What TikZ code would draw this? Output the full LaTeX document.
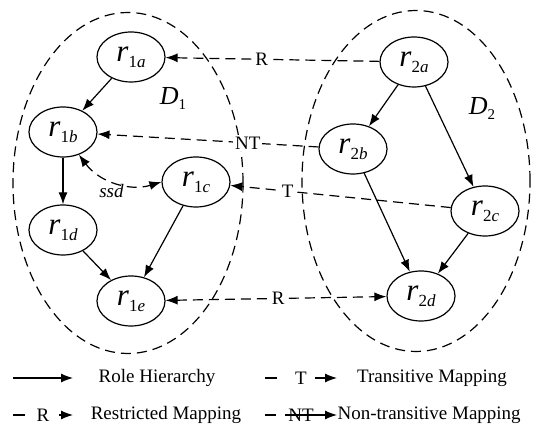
\documentclass[tikz,border=0pt]{standalone}
\usepackage{fontspec}
\setmainfont{Liberation Serif}
\usetikzlibrary{shapes.geometric,arrows.meta}

\newcommand{\rolename}[2]{{\fontsize{31}{31}\selectfont\textit{r}}{\fontsize{17}{17}\selectfont\raisebox{-6pt}{#1\textit{#2}}}}
\newcommand{\domname}[1]{{\fontsize{26}{26}\selectfont\textit{D}}{\fontsize{15}{15}\selectfont\raisebox{-5pt}{#1}}}

\begin{document}
\begin{tikzpicture}[
        x=1pt, y=1pt,
        >={Latex[length=12pt,width=9pt]},
        every path/.style={line width=1.2pt},
        role node/.style={ellipse, draw, line width=1.2pt, minimum width=68pt, minimum height=50pt, inner sep=0pt},
        domain area/.style={ellipse, draw, line width=1.2pt, dash pattern=on 10pt off 6pt, inner sep=0pt},
        mapping/.style={dash pattern=on 10pt off 6pt},
        map label/.style={fill=white, inner sep=2pt, font=\fontsize{19}{22}\selectfont},
        legend text/.style={inner sep=0pt, font=\fontsize{19}{22}\selectfont},
    ]
    \useasboundingbox (0,0) rectangle (540,430);

    \node[domain area, minimum width=230pt, minimum height=341pt] (D1) at (128,247) {};
    \node[domain area, minimum width=228pt, minimum height=341pt] (D2) at (416,249) {};
    \node (D1lbl) at (173,332) {\domname{1}};
    \node (D2lbl) at (482,322) {\domname{2}};

    \node[role node] (r1a) at (131,373) {\rolename{1}{a}};
    \node[role node] (r1b) at (63,298) {\rolename{1}{b}};
    \node[role node] (r1c) at (196,248) {\rolename{1}{c}};
    \node[role node] (r1d) at (63,200) {\rolename{1}{d}};
    \node[role node] (r1e) at (131,129) {\rolename{1}{e}};
    \node[role node] (r2a) at (414,368) {\rolename{2}{a}};
    \node[role node] (r2b) at (353,281) {\rolename{2}{b}};
    \node[role node] (r2c) at (485,219) {\rolename{2}{c}};
    \node[role node] (r2d) at (421,134) {\rolename{2}{d}};

    \draw[->] (r1a) -- (r1b);
    \draw[->] (r1b) -- (r1d);
    \draw[->] (r1d) -- (r1e);
    \draw[->] (r1c) -- (r1e);
    \draw[->] (r2a) -- (r2b);
    \draw[->] (r2a) -- (r2c);
    \draw[->] (r2b) -- (r2d);
    \draw[->] (r2c) -- (r2d);

    \draw[mapping, <->] (r1b.-55) to[bend right=35] node[pos=0.45, below=3pt, legend text] (ssdlbl) {\textit{ssd}} (r1c.west);
    \draw[mapping, ->] (r2a) -- node[map label, pos=0.55] (R1lbl) {R} (r1a);
    \draw[mapping, ->] (r2b) -- node[map label, pos=0.32] (NTlbl) {NT} (r1b);
    \draw[mapping, ->] (r2c) -- node[map label, pos=0.74] (Tlbl) {T} (r1c);
    \draw[mapping, <->] (r1e) -- node[map label, pos=0.51] (R2lbl) {R} (r2d);

    % legend
    \coordinate (rhA) at (13,52);
    \coordinate (rhB) at (73,52);
    \draw[->] (rhA) -- (rhB);
    \node[legend text] (rhtxt) at (157,52) {Role Hierarchy};
    \coordinate (tmA) at (265,52);
    \coordinate (tmB) at (337,52);
    \draw[dash pattern=on 12pt off 38pt on 40pt, ->] (tmA) -- node[legend text] (tmlbl) {T} (tmB);
    \node[legend text] (tmtxt) at (432,52) {Transitive Mapping};
    \coordinate (rmA) at (13,15);
    \coordinate (rmB) at (73,15);
    \draw[dash pattern=on 12pt off 34pt on 40pt, ->] (rmA) -- node[legend text] (rmlbl) {R} (rmB);
    \node[legend text] (rmtxt) at (166,15) {Restricted Mapping};
    \coordinate (nmA) at (265,15);
    \coordinate (nmB) at (337,15);
    \draw[dash pattern=on 11pt off 9pt on 60pt, ->] (nmA) -- node[legend text] (nmlbl) {NT} (nmB);
    \node[legend text, anchor=west] (nmtxt) at (337,15) {Non-transitive Mapping};
\end{tikzpicture}
\end{document}
